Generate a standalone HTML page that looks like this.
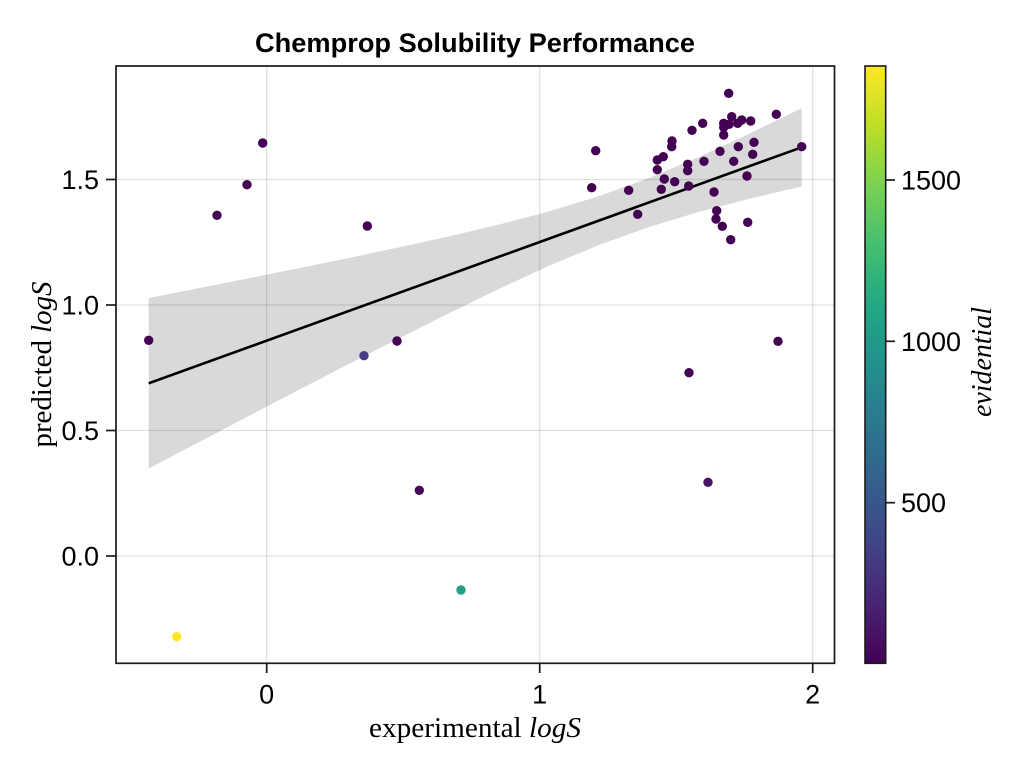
<!DOCTYPE html>
<html>
<head>
<meta charset="utf-8">
<style>
  html, body { margin: 0; padding: 0; background: #ffffff; }
  svg { display: block; }
  .tick { font-family: "Liberation Sans", "DejaVu Sans", sans-serif; font-size: 27px; fill: #000; }
  .title { font-family: "Liberation Sans", "DejaVu Sans", sans-serif; font-size: 27px; font-weight: bold; fill: #000; }
  .lab { font-family: "Liberation Serif", "DejaVu Serif", serif; font-size: 28px; fill: #000; }
</style>
</head>
<body>
<svg width="1024" height="768" viewBox="0 0 1024 768" xmlns="http://www.w3.org/2000/svg">
  <defs>
    <linearGradient id="viridis" x1="0" y1="1" x2="0" y2="0">
      <stop offset="0" stop-color="#440154"/>
      <stop offset="0.1" stop-color="#482475"/>
      <stop offset="0.2" stop-color="#414487"/>
      <stop offset="0.3" stop-color="#355f8d"/>
      <stop offset="0.4" stop-color="#2a788e"/>
      <stop offset="0.5" stop-color="#21918c"/>
      <stop offset="0.6" stop-color="#22a884"/>
      <stop offset="0.7" stop-color="#44bf70"/>
      <stop offset="0.8" stop-color="#7ad151"/>
      <stop offset="0.9" stop-color="#bddf26"/>
      <stop offset="1" stop-color="#fde725"/>
    </linearGradient>
    <clipPath id="plotclip"><rect x="116" y="66" width="718.5" height="597.5"/></clipPath>
  </defs>

  <rect x="0" y="0" width="1024" height="768" fill="#ffffff"/>

  <text class="title" x="475" y="52" text-anchor="middle" textLength="440" lengthAdjust="spacingAndGlyphs">Chemprop Solubility Performance</text>

  <g stroke="#000" stroke-opacity="0.12" stroke-width="1.3">
    <line x1="266.7" y1="66" x2="266.7" y2="663.3"/>
    <line x1="539.7" y1="66" x2="539.7" y2="663.3"/>
    <line x1="812.7" y1="66" x2="812.7" y2="663.3"/>
    <line x1="116" y1="179.5" x2="834.5" y2="179.5"/>
    <line x1="116" y1="305" x2="834.5" y2="305"/>
    <line x1="116" y1="430.5" x2="834.5" y2="430.5"/>
    <line x1="116" y1="556" x2="834.5" y2="556"/>
  </g>

  <g clip-path="url(#plotclip)">
    <polygon fill="#000" fill-opacity="0.15" points="148.7,298.0 200,287.9 250,278.0 300,267.9 350,257.7 400,247.1 450,236.1 500,224.3 550,211.1 600,195.8 650,177.6 700,156.5 750,133.4 801.7,108.1 801.7,186.5 750,198.6 700,211.6 650,226.7 600,244.6 550,265.4 500,288.4 450,312.7 400,337.9 350,363.4 300,389.3 250,415.4 200,441.6 148.7,468.6"/>

    <line x1="148.7" y1="383.3" x2="801.7" y2="147.3" stroke="#000" stroke-width="2.6"/>

    <g fill="#440154">
      <circle cx="148.7" cy="340.3" r="4.7"/>
      <circle cx="217" cy="215.3" r="4.7"/>
      <circle cx="247" cy="184.7" r="4.7"/>
      <circle cx="262.7" cy="143" r="4.7"/>
      <circle cx="367.3" cy="226" r="4.7"/>
      <circle cx="397" cy="341" r="4.7"/>
      <circle cx="689" cy="372.7" r="4.7"/>
      <circle cx="778" cy="341.3" r="4.7"/>
      <circle cx="595.7" cy="150.7" r="4.7"/>
      <circle cx="591.7" cy="187.7" r="4.7"/>
      <circle cx="628.7" cy="190.3" r="4.7"/>
      <circle cx="637.7" cy="214.3" r="4.7"/>
      <circle cx="661.3" cy="189.3" r="4.7"/>
      <circle cx="657.3" cy="169.7" r="4.7"/>
      <circle cx="657.3" cy="160" r="4.7"/>
      <circle cx="663.3" cy="156.7" r="4.7"/>
      <circle cx="672" cy="141" r="4.7"/>
      <circle cx="671.7" cy="146.7" r="4.7"/>
      <circle cx="664.3" cy="179" r="4.7"/>
      <circle cx="674.7" cy="181.7" r="4.7"/>
      <circle cx="687.7" cy="164.3" r="4.7"/>
      <circle cx="687.7" cy="170.7" r="4.7"/>
      <circle cx="688.7" cy="186" r="4.7"/>
      <circle cx="692" cy="130.3" r="4.7"/>
      <circle cx="702.7" cy="123.3" r="4.7"/>
      <circle cx="704" cy="161.3" r="4.7"/>
      <circle cx="714" cy="192" r="4.7"/>
      <circle cx="716.7" cy="210.7" r="4.7"/>
      <circle cx="716" cy="219" r="4.7"/>
      <circle cx="722.3" cy="226.3" r="4.7"/>
      <circle cx="730.7" cy="239.7" r="4.7"/>
      <circle cx="720" cy="151.3" r="4.7"/>
      <circle cx="723.7" cy="135" r="4.7"/>
      <circle cx="723.7" cy="127.3" r="4.7"/>
      <circle cx="723.7" cy="123.3" r="4.7"/>
      <circle cx="728.7" cy="93.3" r="4.7"/>
      <circle cx="731.7" cy="116.7" r="4.7"/>
      <circle cx="729" cy="124.3" r="4.7"/>
      <circle cx="737.7" cy="123.3" r="4.7"/>
      <circle cx="741.7" cy="120" r="4.7"/>
      <circle cx="750.7" cy="121" r="4.7"/>
      <circle cx="738.3" cy="146.7" r="4.7"/>
      <circle cx="733.7" cy="161.3" r="4.7"/>
      <circle cx="754" cy="142.3" r="4.7"/>
      <circle cx="752.7" cy="154.3" r="4.7"/>
      <circle cx="747" cy="176" r="4.7"/>
      <circle cx="747.7" cy="222.3" r="4.7"/>
      <circle cx="776.3" cy="114.3" r="4.7"/>
      <circle cx="801.7" cy="146.7" r="4.7"/>
    </g>
    <circle cx="419.3" cy="490.3" r="4.7" fill="#450559"/>
    <circle cx="708" cy="482.3" r="4.7" fill="#471365"/>
    <circle cx="364" cy="355.7" r="4.7" fill="#433e85"/>
    <circle cx="461" cy="590" r="4.7" fill="#22a085"/>
    <circle cx="176.7" cy="636.7" r="4.7" fill="#fde725"/>
  </g>

  <rect x="116" y="66" width="718.5" height="597.3" fill="none" stroke="#1a1a1a" stroke-width="1.7"/>

  <g stroke="#1a1a1a" stroke-width="1.7">
    <line x1="106" y1="179.5" x2="116" y2="179.5"/>
    <line x1="106" y1="305" x2="116" y2="305"/>
    <line x1="106" y1="430.5" x2="116" y2="430.5"/>
    <line x1="106" y1="556" x2="116" y2="556"/>
    <line x1="266.7" y1="663.3" x2="266.7" y2="673"/>
    <line x1="539.7" y1="663.3" x2="539.7" y2="673"/>
    <line x1="812.7" y1="663.3" x2="812.7" y2="673"/>
  </g>

  <g class="tick" text-anchor="end">
    <text x="99" y="189">1.5</text>
    <text x="99" y="314.5">1.0</text>
    <text x="99" y="440">0.5</text>
    <text x="99" y="565.5">0.0</text>
  </g>
  <g class="tick" text-anchor="middle">
    <text x="266.7" y="703.5">0</text>
    <text x="539.7" y="703.5">1</text>
    <text x="812.7" y="703.5">2</text>
  </g>

  <text class="lab" x="475" y="737" text-anchor="middle" textLength="212" lengthAdjust="spacingAndGlyphs">experimental <tspan font-style="italic">logS</tspan></text>
  <text class="lab" transform="translate(51,364.5) rotate(-90)" x="0" y="0" text-anchor="middle" textLength="166" lengthAdjust="spacingAndGlyphs">predicted <tspan font-style="italic">logS</tspan></text>

  <rect x="865" y="66" width="20.7" height="597.3" fill="url(#viridis)" stroke="#1a1a1a" stroke-width="1.6"/>
  <g stroke="#1a1a1a" stroke-width="1.7">
    <line x1="885.7" y1="180" x2="895" y2="180"/>
    <line x1="885.7" y1="341.3" x2="895" y2="341.3"/>
    <line x1="885.7" y1="502.7" x2="895" y2="502.7"/>
  </g>
  <g class="tick" text-anchor="start">
    <text x="901" y="189.5">1500</text>
    <text x="901" y="350.8">1000</text>
    <text x="901" y="512.2">500</text>
  </g>
  <text class="lab" font-style="italic" transform="translate(991,362) rotate(-90)" x="0" y="0" text-anchor="middle" textLength="110" lengthAdjust="spacingAndGlyphs">evidential</text>
</svg>
</body>
</html>
